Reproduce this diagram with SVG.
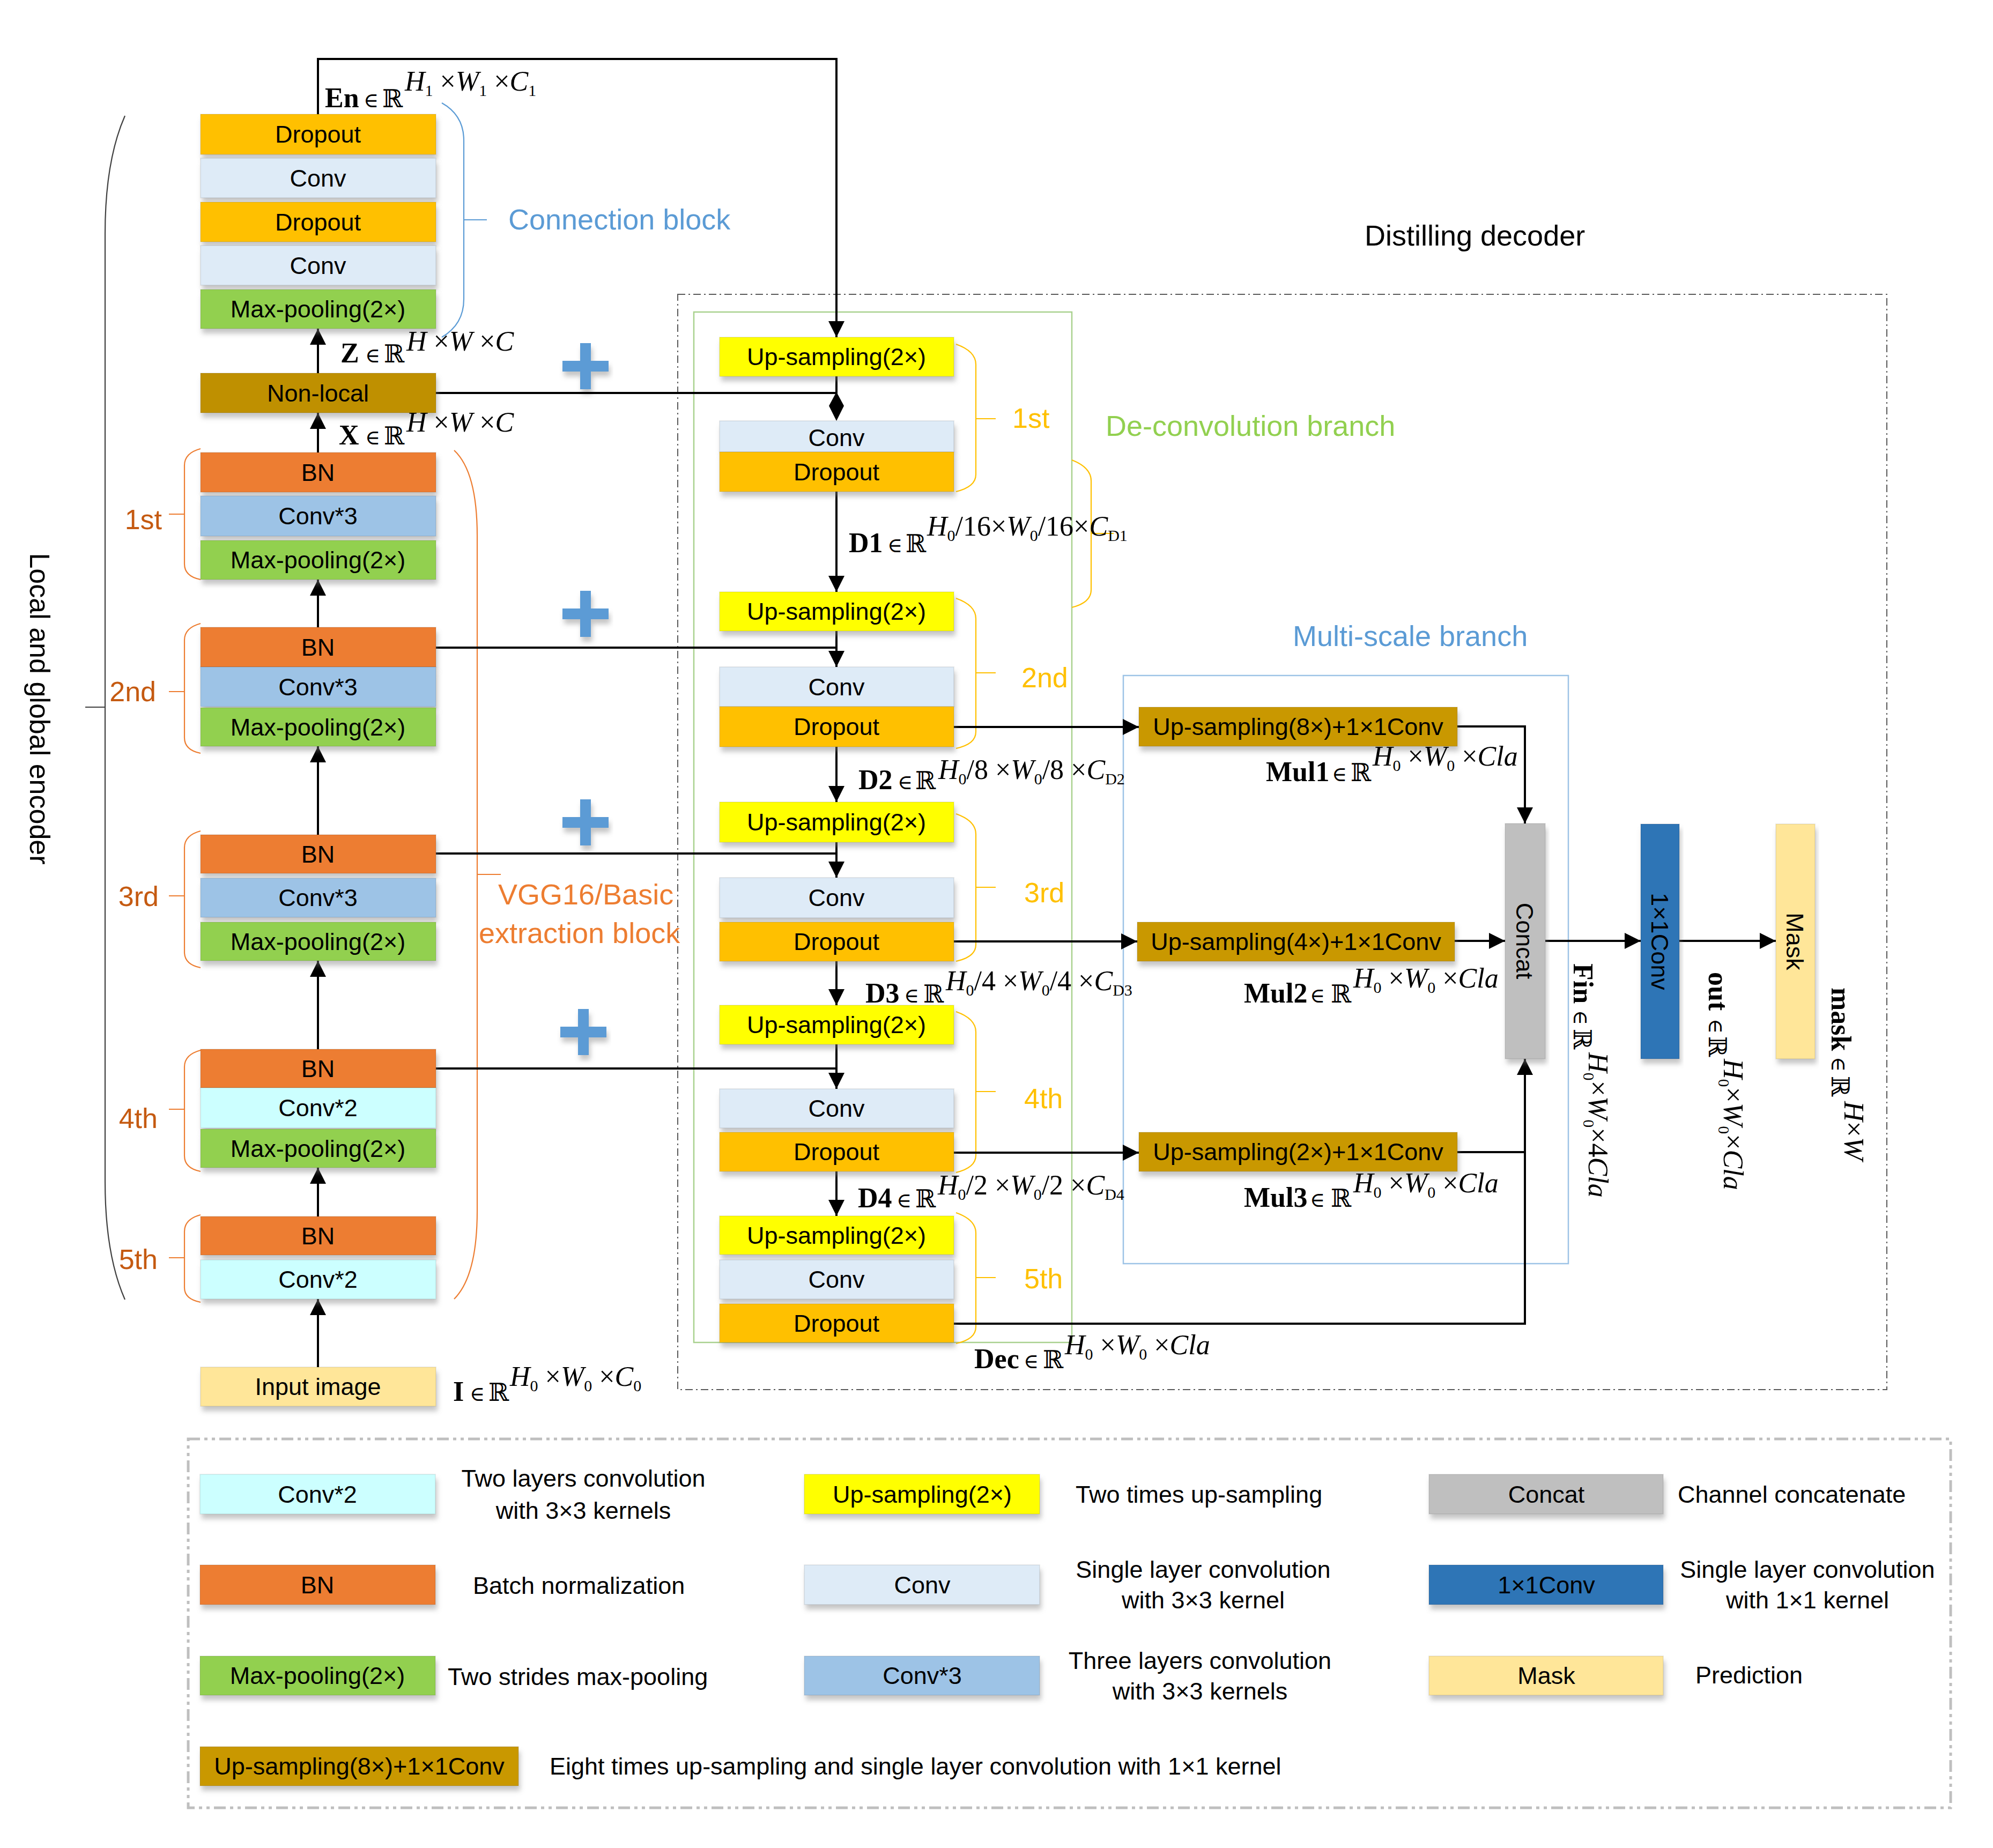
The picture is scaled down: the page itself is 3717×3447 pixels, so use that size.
<svg xmlns="http://www.w3.org/2000/svg" width="3717" height="3447" viewBox="0 0 3717 3447">
<defs>
<filter id="sh" x="-10%" y="-30%" width="120%" height="180%">
<feDropShadow dx="3" dy="9" stdDeviation="5" flood-color="#808080" flood-opacity="0.45"/>
</filter>
<marker id="ah" viewBox="0 0 10 10" refX="10" refY="5" markerWidth="30" markerHeight="30" markerUnits="userSpaceOnUse" orient="auto">
<path d="M0,0 L10,5 L0,10 z" fill="#000"/>
</marker>
<style>
.nd rect{filter:url(#sh);stroke:#000;stroke-opacity:0.08;stroke-width:2}
.nd text,.t{font-family:"Liberation Sans",Arial,sans-serif;font-size:45px;fill:#000}
.nd text{text-anchor:middle}
.ln{stroke:#000;stroke-width:4;fill:none}
.ar{marker-end:url(#ah)}
.br{fill:none;stroke-width:2.2}
.enc{stroke:#ED7D31}
.dec{stroke:#FFC000}
.lab{font-family:"Liberation Sans",Arial,sans-serif;font-size:52px}
.big{font-size:54px}
.mb{font-family:"Liberation Serif","Times New Roman",serif;font-weight:bold;font-size:52px}
.me{font-family:"Liberation Serif","DejaVu Serif",serif;font-size:38px}
.mr{font-family:"DejaVu Serif",serif;font-size:46px}
.ms{font-family:"Liberation Serif","Times New Roman",serif;font-style:italic;font-size:52px}
.sb{font-size:30px;font-style:normal}
.up{font-style:normal}
.dr{fill:#FFC000}.cv{fill:#DEEBF7}.mp{fill:#92D050}.nl{fill:#BF9000}.bn{fill:#ED7D31}
.c3{fill:#9DC3E6}.c2{fill:#CCFFFF}.ii{fill:#FFE699}.us{fill:#FFFF00}.ms8{fill:#C99800}
.cc{fill:#BFBFBF}.c11{fill:#2E75B6}
.plus{fill:#5B9BD5;filter:url(#sh)}
</style>
</defs>
<rect width="3717" height="3447" fill="#fff"/>

<!-- containers -->
<g id="containers">
<rect x="1264" y="549" width="2255" height="2043" fill="none" stroke="#595959" stroke-width="2" stroke-dasharray="14 6 3 6"/>
<rect x="1294" y="582" width="705" height="1922" fill="none" stroke="#A9D18E" stroke-width="2.5"/>
<rect x="2095" y="1260" width="830" height="1097" fill="none" stroke="#9DC3E6" stroke-width="2.5"/>
<rect x="351" y="2684" width="3287" height="688" fill="none" stroke="#BFBFBF" stroke-width="5" stroke-dasharray="22 8 6 8 6 8"/>
</g>

<!-- brackets and group labels -->
<g id="brackets">
<path class="br" stroke="#404040" d="M233,216 Q196,300 196,436 L196,2204 Q196,2340 233,2424"/>
<path class="br" stroke="#404040" d="M159,1319 H196"/>
<text class="lab" transform="translate(56,1322) rotate(90)" text-anchor="middle" fill="#000">Local and global encoder</text>

<path class="br" stroke="#5B9BD5" d="M824,192 Q865,215 865,262 L865,558 Q865,605 824,629 M865,410 H908"/>
<text class="lab big" x="948" y="428" fill="#5B9BD5">Connection block</text>

<path class="br enc" d="M847,840 Q890,880 890,1000 L890,2258 Q890,2380 847,2423 M890,1631 H934"/>
<text class="lab big" x="929" y="1687" fill="#ED7D31">VGG16/Basic</text>
<text class="lab big" x="893" y="1759" fill="#ED7D31">extraction block</text>

<path class="br enc" d="M374,837 Q344,845 344,868 L344,1052 Q344,1075 374,1081 M315,959 H344"/>
<path class="br enc" d="M374,1163 Q344,1171 344,1194 L344,1376 Q344,1399 374,1405 M315,1290 H344"/>
<path class="br enc" d="M374,1550 Q344,1558 344,1581 L344,1776 Q344,1799 374,1805 M315,1671 H344"/>
<path class="br enc" d="M374,1959 Q344,1967 344,1990 L344,2156 Q344,2179 374,2185 M315,2069 H344"/>
<path class="br enc" d="M374,2266 Q344,2274 344,2297 L344,2402 Q344,2423 374,2429 M315,2346 H344"/>
<g class="lab" fill="#C55A11" text-anchor="end">
<text x="302" y="987">1st</text>
<text x="291" y="1308">2nd</text>
<text x="296" y="1690">3rd</text>
<text x="294" y="2104">4th</text>
<text x="294" y="2367">5th</text>
</g>

<path class="br dec" d="M1783,642 Q1820,655 1820,680 L1820,885 Q1820,908 1783,917 M1820,781 H1857"/>
<path class="br dec" d="M1783,1116 Q1820,1129 1820,1154 L1820,1365 Q1820,1388 1783,1396 M1820,1255 H1857"/>
<path class="br dec" d="M1783,1518 Q1820,1531 1820,1556 L1820,1762 Q1820,1785 1783,1793 M1820,1655 H1857"/>
<path class="br dec" d="M1783,1887 Q1820,1900 1820,1925 L1820,2155 Q1820,2178 1783,2187 M1820,2036 H1857"/>
<path class="br dec" d="M1783,2262 Q1820,2275 1820,2300 L1820,2475 Q1820,2498 1783,2506 M1820,2383 H1857"/>
<path class="br dec" d="M1999,858 Q2035,872 2035,897 L2035,1100 Q2035,1124 1999,1133 M2035,995 H2077"/>
<g class="lab" fill="#FFC000">
<text x="1888" y="798">1st</text>
<text x="1905" y="1282">2nd</text>
<text x="1910" y="1683">3rd</text>
<text x="1910" y="2067">4th</text>
<text x="1910" y="2403">5th</text>
</g>

<text class="lab big" x="2545" y="458" fill="#000">Distilling decoder</text>
<text class="lab big" x="2062" y="813" fill="#92D050">De-convolution branch</text>
<text class="lab big" x="2411" y="1205" fill="#5B9BD5">Multi-scale branch</text>
</g>

<!-- plus signs -->
<g id="plus">
<path class="plus" d="M1082,640 h20 v33 h33 v20 h-33 v33 h-20 v-33 h-33 v-20 h33 z"/>
<path class="plus" d="M1082,1102 h20 v33 h33 v20 h-33 v33 h-20 v-33 h-33 v-20 h33 z"/>
<path class="plus" d="M1082,1491 h20 v33 h33 v20 h-33 v33 h-20 v-33 h-33 v-20 h33 z"/>
<path class="plus" d="M1078,1882 h20 v33 h33 v20 h-33 v33 h-20 v-33 h-33 v-20 h33 z"/>
</g>

<!-- connectors -->
<g id="connectors">
<path class="ln ar" d="M593,2550 V2423"/>
<path class="ln ar" d="M593,2269 V2178"/>
<path class="ln ar" d="M593,1957 V1792"/>
<path class="ln ar" d="M593,1557 V1392"/>
<path class="ln ar" d="M593,1170 V1081"/>
<path class="ln ar" d="M593,844 V770"/>
<path class="ln ar" d="M593,696 V613"/>
<path class="ln ar" d="M593,213 V110 H1560 V629"/>
<path class="ln" d="M813,733 H1560"/>
<path class="ln" d="M1560,702 V770"/>
<path d="M1560,731 L1574,757 L1560,785 L1546,757 z" fill="#000"/>
<path class="ln ar" d="M1560,917 V1104"/>
<path class="ln" d="M813,1208 H1560"/>
<path class="ln ar" d="M1560,1177 V1244"/>
<path class="ln ar" d="M1560,1393 V1496"/>
<path class="ln" d="M813,1592 H1560"/>
<path class="ln ar" d="M1560,1571 V1637"/>
<path class="ln ar" d="M1560,1793 V1875"/>
<path class="ln" d="M813,1993 H1560"/>
<path class="ln ar" d="M1560,1948 V2031"/>
<path class="ln ar" d="M1560,2185 V2268"/>
<path class="ln ar" d="M1779,1356 H2124"/>
<path class="ln ar" d="M1779,1756 H2121"/>
<path class="ln ar" d="M1779,2150 H2124"/>
<path class="ln ar" d="M1779,2469 H2844 V1975"/>
<path class="ln ar" d="M2718,1355 H2844 V1536"/>
<path class="ln ar" d="M2713,1755 H2807"/>
<path class="ln" d="M2718,2149 H2844"/>
<path class="ln ar" d="M2882,1755 H3060"/>
<path class="ln ar" d="M3132,1755 H3312"/>
</g>

<!-- encoder nodes -->
<g id="enc-dropout-a" class="nd"><rect class="dr" x="374" y="213" width="439" height="75"/><text x="593" y="266">Dropout</text></g>
<g id="enc-conv-a" class="nd"><rect class="cv" x="374" y="295" width="439" height="74"/><text x="593" y="348">Conv</text></g>
<g id="enc-dropout-b" class="nd"><rect class="dr" x="374" y="377" width="439" height="74"/><text x="593" y="430">Dropout</text></g>
<g id="enc-conv-b" class="nd"><rect class="cv" x="374" y="458" width="439" height="74"/><text x="593" y="511">Conv</text></g>
<g id="enc-maxpool-c" class="nd"><rect class="mp" x="374" y="540" width="439" height="73"/><text x="593" y="592">Max-pooling(2×)</text></g>
<g id="enc-nonlocal" class="nd"><rect class="nl" x="374" y="696" width="439" height="74"/><text x="593" y="749">Non-local</text></g>

<g id="enc-bn1" class="nd"><rect class="bn" x="374" y="844" width="439" height="74"/><text x="593" y="897">BN</text></g>
<g id="enc-conv3-1" class="nd"><rect class="c3" x="374" y="925" width="439" height="75"/><text x="593" y="978">Conv*3</text></g>
<g id="enc-mp1" class="nd"><rect class="mp" x="374" y="1008" width="439" height="73"/><text x="593" y="1060">Max-pooling(2×)</text></g>

<g id="enc-bn2" class="nd"><rect class="bn" x="374" y="1170" width="439" height="74"/><text x="593" y="1223">BN</text></g>
<g id="enc-conv3-2" class="nd"><rect class="c3" x="374" y="1244" width="439" height="74"/><text x="593" y="1297">Conv*3</text></g>
<g id="enc-mp2" class="nd"><rect class="mp" x="374" y="1320" width="439" height="72"/><text x="593" y="1372">Max-pooling(2×)</text></g>

<g id="enc-bn3" class="nd"><rect class="bn" x="374" y="1557" width="439" height="72"/><text x="593" y="1609">BN</text></g>
<g id="enc-conv3-3" class="nd"><rect class="c3" x="374" y="1638" width="439" height="73"/><text x="593" y="1690">Conv*3</text></g>
<g id="enc-mp3" class="nd"><rect class="mp" x="374" y="1720" width="439" height="72"/><text x="593" y="1772">Max-pooling(2×)</text></g>

<g id="enc-bn4" class="nd"><rect class="bn" x="374" y="1957" width="439" height="72"/><text x="593" y="2009">BN</text></g>
<g id="enc-conv2-4" class="nd"><rect class="c2" x="374" y="2029" width="439" height="75"/><text x="593" y="2082">Conv*2</text></g>
<g id="enc-mp4" class="nd"><rect class="mp" x="374" y="2106" width="439" height="72"/><text x="593" y="2158">Max-pooling(2×)</text></g>

<g id="enc-bn5" class="nd"><rect class="bn" x="374" y="2269" width="439" height="72"/><text x="593" y="2321">BN</text></g>
<g id="enc-conv2-5" class="nd"><rect class="c2" x="374" y="2350" width="439" height="73"/><text x="593" y="2402">Conv*2</text></g>

<g id="input-image" class="nd"><rect class="ii" x="374" y="2550" width="439" height="73"/><text x="593" y="2602">Input image</text></g>

<!-- decoder nodes -->
<g id="dec-up1" class="nd"><rect class="us" x="1342" y="629" width="437" height="73"/><text x="1560" y="681">Up-sampling(2×)</text></g>
<g id="dec-conv1" class="nd"><rect class="cv" x="1342" y="785" width="437" height="58"/><text x="1560" y="832">Conv</text></g>
<g id="dec-drop1" class="nd"><rect class="dr" x="1342" y="843" width="437" height="74"/><text x="1560" y="896">Dropout</text></g>

<g id="dec-up2" class="nd"><rect class="us" x="1342" y="1104" width="437" height="73"/><text x="1560" y="1156">Up-sampling(2×)</text></g>
<g id="dec-conv2" class="nd"><rect class="cv" x="1342" y="1244" width="437" height="74"/><text x="1560" y="1297">Conv</text></g>
<g id="dec-drop2" class="nd"><rect class="dr" x="1342" y="1318" width="437" height="75"/><text x="1560" y="1371">Dropout</text></g>

<g id="dec-up3" class="nd"><rect class="us" x="1342" y="1496" width="437" height="75"/><text x="1560" y="1549">Up-sampling(2×)</text></g>
<g id="dec-conv3" class="nd"><rect class="cv" x="1342" y="1637" width="437" height="75"/><text x="1560" y="1690">Conv</text></g>
<g id="dec-drop3" class="nd"><rect class="dr" x="1342" y="1720" width="437" height="73"/><text x="1560" y="1772">Dropout</text></g>

<g id="dec-up4" class="nd"><rect class="us" x="1342" y="1875" width="437" height="73"/><text x="1560" y="1927">Up-sampling(2×)</text></g>
<g id="dec-conv4" class="nd"><rect class="cv" x="1342" y="2031" width="437" height="73"/><text x="1560" y="2083">Conv</text></g>
<g id="dec-drop4" class="nd"><rect class="dr" x="1342" y="2112" width="437" height="73"/><text x="1560" y="2164">Dropout</text></g>

<g id="dec-up5" class="nd"><rect class="us" x="1342" y="2268" width="437" height="72"/><text x="1560" y="2320">Up-sampling(2×)</text></g>
<g id="dec-conv5" class="nd"><rect class="cv" x="1342" y="2350" width="437" height="73"/><text x="1560" y="2402">Conv</text></g>
<g id="dec-drop5" class="nd"><rect class="dr" x="1342" y="2432" width="437" height="72"/><text x="1560" y="2484">Dropout</text></g>

<!-- multi-scale nodes -->
<g id="ms-up8" class="nd"><rect class="ms8" x="2124" y="1319" width="594" height="73"/><text x="2421" y="1371">Up-sampling(8×)+1×1Conv</text></g>
<g id="ms-up4" class="nd"><rect class="ms8" x="2121" y="1720" width="592" height="73"/><text x="2417" y="1772">Up-sampling(4×)+1×1Conv</text></g>
<g id="ms-up2" class="nd"><rect class="ms8" x="2124" y="2112" width="594" height="73"/><text x="2421" y="2164">Up-sampling(2×)+1×1Conv</text></g>
<g id="concat" class="nd"><rect class="cc" x="2807" y="1536" width="75" height="439"/><text transform="translate(2844,1755) rotate(90)" y="16">Concat</text></g>
<g id="conv1x1" class="nd"><rect class="c11" x="3060" y="1537" width="72" height="438"/><text transform="translate(3096,1756) rotate(90)" y="16">1×1Conv</text></g>
<g id="mask" class="nd"><rect class="ii" x="3312" y="1537" width="73" height="438"/><text transform="translate(3348,1756) rotate(90)" y="16">Mask</text></g>

<!-- math labels -->
<g id="math">
<g><text class="mb" x="606" y="200">En</text><text class="me" x="678" y="200">∈</text><text class="mr" x="713" y="200">ℝ</text>
<text class="ms" x="755" y="169">H<tspan class="sb" dy="10">1</tspan><tspan class="up" dy="-10"> ×</tspan>W<tspan class="sb" dy="10">1</tspan><tspan class="up" dy="-10"> ×</tspan>C<tspan class="sb" dy="10">1</tspan></text></g>

<g><text class="mb" x="635" y="676">Z</text><text class="me" x="681" y="676">∈</text><text class="mr" x="716" y="676">ℝ</text>
<text class="ms" x="758" y="654">H<tspan class="up"> ×</tspan>W<tspan class="up"> ×</tspan>C</text></g>

<g><text class="mb" x="632" y="829">X</text><text class="me" x="681" y="829">∈</text><text class="mr" x="716" y="829">ℝ</text>
<text class="ms" x="758" y="805">H<tspan class="up"> ×</tspan>W<tspan class="up"> ×</tspan>C</text></g>

<g><text class="mb" x="1583" y="1030">D1</text><text class="me" x="1655" y="1030">∈</text><text class="mr" x="1689" y="1030">ℝ</text>
<text class="ms" x="1729" y="999">H<tspan class="sb" dy="10">0</tspan><tspan class="up" dy="-10">/16×</tspan>W<tspan class="sb" dy="10">0</tspan><tspan class="up" dy="-10">/16×</tspan>C<tspan class="sb" dy="10" font-style="italic">D</tspan><tspan class="sb">1</tspan></text></g>

<g><text class="mb" x="1601" y="1472">D2</text><text class="me" x="1674" y="1472">∈</text><text class="mr" x="1707" y="1472">ℝ</text>
<text class="ms" x="1750" y="1453">H<tspan class="sb" dy="10">0</tspan><tspan class="up" dy="-10">/8 ×</tspan>W<tspan class="sb" dy="10">0</tspan><tspan class="up" dy="-10">/8 ×</tspan>C<tspan class="sb" dy="10" font-style="italic">D</tspan><tspan class="sb">2</tspan></text></g>

<g><text class="mb" x="1614" y="1870">D3</text><text class="me" x="1686" y="1870">∈</text><text class="mr" x="1722" y="1870">ℝ</text>
<text class="ms" x="1764" y="1847">H<tspan class="sb" dy="10">0</tspan><tspan class="up" dy="-10">/4 ×</tspan>W<tspan class="sb" dy="10">0</tspan><tspan class="up" dy="-10">/4 ×</tspan>C<tspan class="sb" dy="10" font-style="italic">D</tspan><tspan class="sb">3</tspan></text></g>

<g><text class="mb" x="1600" y="2252">D4</text><text class="me" x="1672" y="2252">∈</text><text class="mr" x="1707" y="2252">ℝ</text>
<text class="ms" x="1749" y="2228">H<tspan class="sb" dy="10">0</tspan><tspan class="up" dy="-10">/2 ×</tspan>W<tspan class="sb" dy="10">0</tspan><tspan class="up" dy="-10">/2 ×</tspan>C<tspan class="sb" dy="10" font-style="italic">D</tspan><tspan class="sb">4</tspan></text></g>

<g><text class="mb" x="1817" y="2552">Dec</text><text class="me" x="1909" y="2552">∈</text><text class="mr" x="1945" y="2552">ℝ</text>
<text class="ms" x="1986" y="2526">H<tspan class="sb" dy="10">0</tspan><tspan class="up" dy="-10"> ×</tspan>W<tspan class="sb" dy="10">0</tspan><tspan class="up" dy="-10"> ×</tspan>Cla</text></g>

<g><text class="mb" x="845" y="2613">I</text><text class="me" x="876" y="2613">∈</text><text class="mr" x="911" y="2613">ℝ</text>
<text class="ms" x="951" y="2585">H<tspan class="sb" dy="10">0</tspan><tspan class="up" dy="-10"> ×</tspan>W<tspan class="sb" dy="10">0</tspan><tspan class="up" dy="-10"> ×</tspan>C<tspan class="sb" dy="10">0</tspan></text></g>

<g><text class="mb" x="2361" y="1457">Mul1</text><text class="me" x="2484" y="1457">∈</text><text class="mr" x="2519" y="1457">ℝ</text>
<text class="ms" x="2560" y="1428">H<tspan class="sb" dy="10">0</tspan><tspan class="up" dy="-10"> ×</tspan>W<tspan class="sb" dy="10">0</tspan><tspan class="up" dy="-10"> ×</tspan>Cla</text></g>

<g><text class="mb" x="2320" y="1870">Mul2</text><text class="me" x="2443" y="1870">∈</text><text class="mr" x="2482" y="1870">ℝ</text>
<text class="ms" x="2524" y="1842">H<tspan class="sb" dy="10">0</tspan><tspan class="up" dy="-10"> ×</tspan>W<tspan class="sb" dy="10">0</tspan><tspan class="up" dy="-10"> ×</tspan>Cla</text></g>

<g><text class="mb" x="2320" y="2251">Mul3</text><text class="me" x="2443" y="2251">∈</text><text class="mr" x="2482" y="2251">ℝ</text>
<text class="ms" x="2524" y="2224">H<tspan class="sb" dy="10">0</tspan><tspan class="up" dy="-10"> ×</tspan>W<tspan class="sb" dy="10">0</tspan><tspan class="up" dy="-10"> ×</tspan>Cla</text></g>

<g transform="translate(2935,1797) rotate(90)"><text class="mb" x="0" y="0">Fin</text><text class="me" x="87" y="0">∈</text><text class="mr" x="122" y="0">ℝ</text>
<text class="ms" x="166" y="-28">H<tspan class="sb" dy="10">0</tspan><tspan class="up" dy="-10">×</tspan>W<tspan class="sb" dy="10">0</tspan><tspan class="up" dy="-10">×4</tspan>Cla</text></g>

<g transform="translate(3187,1813) rotate(90)"><text class="mb" x="0" y="0">out</text><text class="me" x="87" y="0">∈</text><text class="mr" x="120" y="0">ℝ</text>
<text class="ms" x="162" y="-28">H<tspan class="sb" dy="10">0</tspan><tspan class="up" dy="-10">×</tspan>W<tspan class="sb" dy="10">0</tspan><tspan class="up" dy="-10">×</tspan>Cla</text></g>

<g transform="translate(3416,1842) rotate(90)"><text class="mb" x="0" y="0">mask</text><text class="me" x="129" y="0">∈</text><text class="mr" x="165" y="0">ℝ</text>
<text class="ms" x="212" y="-24">H<tspan class="up">×</tspan>W</text></g>
</g>

<!-- legend -->
<g id="legend">
<g id="lg-conv2" class="nd"><rect class="c2" x="373" y="2750" width="439" height="74"/><text x="592" y="2803">Conv*2</text></g>
<g id="lg-bn" class="nd"><rect class="bn" x="373" y="2919" width="439" height="74"/><text x="592" y="2972">BN</text></g>
<g id="lg-mp" class="nd"><rect class="mp" x="373" y="3089" width="439" height="73"/><text x="592" y="3141">Max-pooling(2×)</text></g>
<g id="lg-ms8" class="nd"><rect class="ms8" x="373" y="3258" width="594" height="73"/><text x="670" y="3310">Up-sampling(8×)+1×1Conv</text></g>
<g id="lg-up" class="nd"><rect class="us" x="1500" y="2750" width="439" height="74"/><text x="1720" y="2803">Up-sampling(2×)</text></g>
<g id="lg-conv" class="nd"><rect class="cv" x="1500" y="2919" width="439" height="74"/><text x="1720" y="2972">Conv</text></g>
<g id="lg-conv3" class="nd"><rect class="c3" x="1500" y="3089" width="439" height="73"/><text x="1720" y="3141">Conv*3</text></g>
<g id="lg-concat" class="nd"><rect class="cc" x="2665" y="2750" width="437" height="74"/><text x="2884" y="2803">Concat</text></g>
<g id="lg-c11" class="nd"><rect class="c11" x="2665" y="2919" width="437" height="74"/><text x="2884" y="2972">1×1Conv</text></g>
<g id="lg-mask" class="nd"><rect class="ii" x="2665" y="3089" width="437" height="73"/><text x="2884" y="3141">Mask</text></g>

<g class="t">
<text x="1088" y="2773" text-anchor="middle">Two layers convolution</text>
<text x="1088" y="2833" text-anchor="middle">with 3×3 kernels</text>
<text x="882" y="2973">Batch normalization</text>
<text x="835" y="3143">Two strides max-pooling</text>
<text x="1025" y="3310">Eight times up-sampling and single layer convolution with 1×1 kernel</text>
<text x="2006" y="2803">Two times up-sampling</text>
<text x="2244" y="2943" text-anchor="middle">Single layer convolution</text>
<text x="2244" y="3000" text-anchor="middle">with 3×3 kernel</text>
<text x="2238" y="3113" text-anchor="middle">Three layers convolution</text>
<text x="2238" y="3170" text-anchor="middle">with 3×3 kernels</text>
<text x="3129" y="2803">Channel concatenate</text>
<text x="3371" y="2943" text-anchor="middle">Single layer convolution</text>
<text x="3371" y="3000" text-anchor="middle">with 1×1 kernel</text>
<text x="3162" y="3140">Prediction</text>
</g>
</g>
</svg>
